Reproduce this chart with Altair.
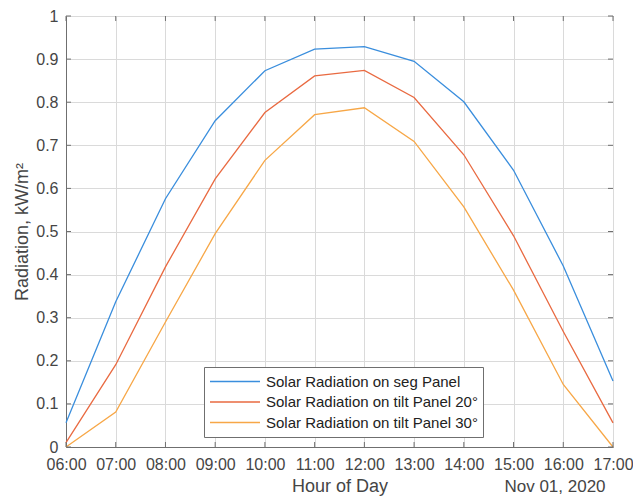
import altair as alt
import pandas as pd

# ---- data ----
hours = [6, 7, 8, 9, 10, 11, 12, 13, 14, 15, 16, 17]
seg_panel = [0.056, 0.337, 0.576, 0.757, 0.873, 0.923, 0.929, 0.895, 0.801, 0.642, 0.420, 0.153]
tilt_20 = [0.010, 0.191, 0.418, 0.622, 0.776, 0.861, 0.874, 0.811, 0.678, 0.490, 0.268, 0.056]
tilt_30 = [0.000, 0.081, 0.290, 0.495, 0.665, 0.771, 0.787, 0.709, 0.557, 0.364, 0.145, 0.000]
series_names = [
    "Solar Radiation on seg Panel",
    "Solar Radiation on tilt Panel 20°",
    "Solar Radiation on tilt Panel 30°",
]
series_colors = ["#3a8edd", "#e96a41", "#f7a747"]
y_ticks = [0, 0.1, 0.2, 0.3, 0.4, 0.5, 0.6, 0.7, 0.8, 0.9, 1.0]
date_label = ["Nov 01, 2020"]

rows = []
for name, vals in zip(series_names, [seg_panel, tilt_20, tilt_30]):
    for h, v in zip(hours, vals):
        rows.append({"hour": h, "value": v, "series": name})
df = pd.DataFrame(rows)

W, H = 547, 431
FONT = "Liberation Sans"
TXT = "#454545"
FRAME = "#6f6f6f"

xscale = alt.Scale(domain=[6, 17], nice=False, zero=False)
yscale = alt.Scale(domain=[0, 1], nice=False)

x_axis = alt.Axis(
    values=hours,
    labelExpr="(datum.value < 10 ? '0' : '') + datum.value + ':00'",
    labelOverlap=False,
    labelBound=False,
    labelFlush=False,
    title="Hour of Day",
    grid=True,
    ticks=False,
    labelPadding=9,
    titlePadding=5,
)
y_axis = alt.Axis(
    values=y_ticks,
    format="~g",
    labelOverlap=False,
    labelFlush=False,
    title="Radiation, kW/m²",
    grid=True,
    ticks=False,
    labelPadding=8,
    titleX=-44,
    titleY=H / 2,
    titleBaseline="middle",
)

lines = alt.Chart(df).mark_line(strokeWidth=1.3).encode(
    x=alt.X("hour:Q", scale=xscale, axis=x_axis),
    y=alt.Y("value:Q", scale=yscale, axis=y_axis),
    color=alt.Color(
        "series:N",
        scale=alt.Scale(domain=series_names, range=series_colors),
        legend=alt.Legend(
            title=None,
            orient="none",
            legendX=138,
            legendY=351,
            padding=5,
            strokeColor=FRAME,
            fillColor="white",
            symbolType="stroke",
            symbolSize=2500,
            symbolStrokeWidth=1.5,
            clipHeight=19,
            rowPadding=1.5,
            labelOffset=5,
            labelFontSize=15,
            labelFont=FONT,
            labelColor="#222222",
            labelLimit=400,
        ),
    ),
)

tick_df = pd.DataFrame({"hour": hours})
ytick_df = pd.DataFrame({"v": y_ticks})

xt_bottom = alt.Chart(tick_df).mark_rule(color=FRAME, strokeWidth=1).encode(
    x=alt.X("hour:Q", scale=xscale), y=alt.value(H), y2=alt.value(H - 5)
)
xt_top = alt.Chart(tick_df).mark_rule(color=FRAME, strokeWidth=1).encode(
    x=alt.X("hour:Q", scale=xscale), y=alt.value(0), y2=alt.value(5)
)
yt_left = alt.Chart(ytick_df).mark_rule(color=FRAME, strokeWidth=1).encode(
    y=alt.Y("v:Q", scale=yscale), x=alt.value(0), x2=alt.value(5)
)
yt_right = alt.Chart(ytick_df).mark_rule(color=FRAME, strokeWidth=1).encode(
    y=alt.Y("v:Q", scale=yscale), x=alt.value(W), x2=alt.value(W - 5)
)

date_text = alt.Chart(pd.DataFrame({"t": date_label})).mark_text(
    font=FONT, fontSize=17, color=TXT, align="center", baseline="middle"
).encode(text="t:N", x=alt.value(489), y=alt.value(471))

chart = alt.layer(
    lines, xt_bottom, xt_top, yt_left, yt_right, date_text
).properties(
    width=W,
    height=H,
    autosize=alt.AutoSizeParams(type="none"),
    padding={"left": 58, "top": 8, "right": 20, "bottom": 55},
    background="white",
).configure_view(
    stroke=FRAME, strokeWidth=1
).configure_axis(
    labelFont=FONT,
    labelFontSize=16,
    labelColor=TXT,
    titleFont=FONT,
    titleFontSize=18,
    titleFontWeight="normal",
    titleColor=TXT,
    gridColor="#dadada",
    gridWidth=1,
    domainColor=FRAME,
    domainWidth=1,
)

chart.save("out.html", embed_options={"renderer": "svg", "actions": False})
